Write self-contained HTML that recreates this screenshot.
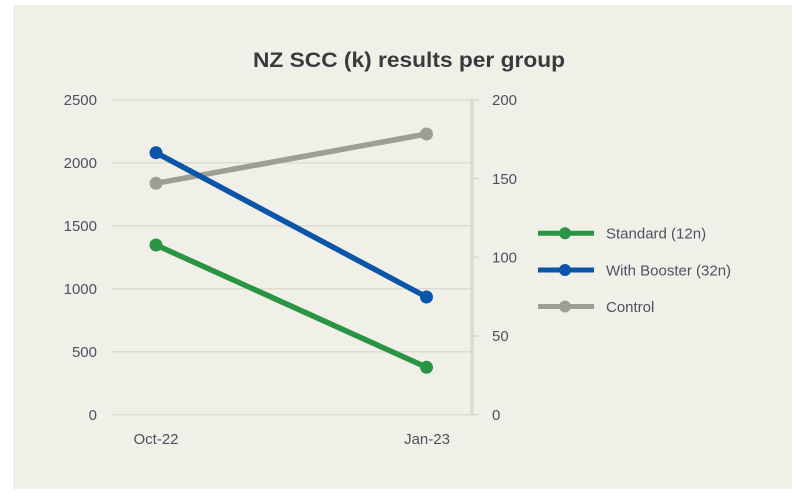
<!DOCTYPE html>
<html><head><meta charset="utf-8"><style>
html,body{margin:0;padding:0;background:#fff;}
svg{display:block;}
text{font-family:"Liberation Sans",sans-serif;}
</style></head><body>
<svg width="800" height="496" viewBox="0 0 800 496" xmlns="http://www.w3.org/2000/svg">
<rect x="13" y="5" width="779" height="484" fill="#f1f0e8"/>
<text x="409" y="67" text-anchor="middle" font-size="21" font-weight="bold" fill="#3a3a3e" textLength="312" lengthAdjust="spacingAndGlyphs">NZ SCC (k) results per group</text>
<g stroke="#dddcd4" stroke-width="1.5">
<line x1="111" y1="99.7" x2="472" y2="99.7"/>
<line x1="111" y1="162.7" x2="472" y2="162.7"/>
<line x1="111" y1="225.7" x2="472" y2="225.7"/>
<line x1="111" y1="288.7" x2="472" y2="288.7"/>
<line x1="111" y1="351.7" x2="472" y2="351.7"/>
<line x1="111" y1="414.7" x2="472" y2="414.7"/>
</g>
<line x1="472" y1="99" x2="472" y2="415.5" stroke="#d9d8d0" stroke-width="3"/>
<g stroke="#d9d8d0" stroke-width="1.5">
<line x1="472" y1="99.7" x2="479" y2="99.7"/>
<line x1="472" y1="178.5" x2="479" y2="178.5"/>
<line x1="472" y1="257.2" x2="479" y2="257.2"/>
<line x1="472" y1="336" x2="479" y2="336"/>
<line x1="472" y1="414.7" x2="479" y2="414.7"/>
</g>
<g font-size="15" fill="#4e5060" text-anchor="end">
<text x="97" y="105">2500</text>
<text x="97" y="168">2000</text>
<text x="97" y="231">1500</text>
<text x="97" y="294">1000</text>
<text x="97" y="357">500</text>
<text x="97" y="420">0</text>
</g>
<g font-size="15" fill="#4e5060">
<text x="492" y="105">200</text>
<text x="492" y="184">150</text>
<text x="492" y="262.5">100</text>
<text x="492" y="341">50</text>
<text x="492" y="420">0</text>
</g>
<g font-size="15" fill="#4e5060" text-anchor="middle">
<text x="156" y="444">Oct-22</text>
<text x="427" y="444">Jan-23</text>
</g>
<g stroke-width="5.5" stroke-linecap="round">
<line x1="156" y1="183.3" x2="426.5" y2="134" stroke="#9e9d96"/>
<line x1="156" y1="152.7" x2="426.5" y2="297" stroke="#0a55a8"/>
<line x1="156" y1="245" x2="426.5" y2="367.3" stroke="#2a9445"/>
</g>
<circle cx="156" cy="183.3" r="6.5" fill="#9e9d96"/>
<circle cx="426.5" cy="134" r="6.5" fill="#9e9d96"/>
<circle cx="156" cy="152.7" r="6.5" fill="#0a55a8"/>
<circle cx="426.5" cy="297" r="6.5" fill="#0a55a8"/>
<circle cx="156" cy="245" r="6.5" fill="#2a9445"/>
<circle cx="426.5" cy="367.3" r="6.5" fill="#2a9445"/>
<g stroke-width="5">
<line x1="538" y1="233.3" x2="594" y2="233.3" stroke="#2a9445"/>
<line x1="538" y1="270" x2="594" y2="270" stroke="#0a55a8"/>
<line x1="538" y1="306.5" x2="594" y2="306.5" stroke="#9e9d96"/>
</g>
<circle cx="565" cy="233.3" r="6" fill="#2a9445"/>
<circle cx="565" cy="270" r="6" fill="#0a55a8"/>
<circle cx="565" cy="306.5" r="6" fill="#9e9d96"/>
<g font-size="15" fill="#4e5060">
<text x="606" y="238.5">Standard (12n)</text>
<text x="606" y="275.5">With Booster (32n)</text>
<text x="606" y="312">Control</text>
</g>
</svg>
</body></html>
